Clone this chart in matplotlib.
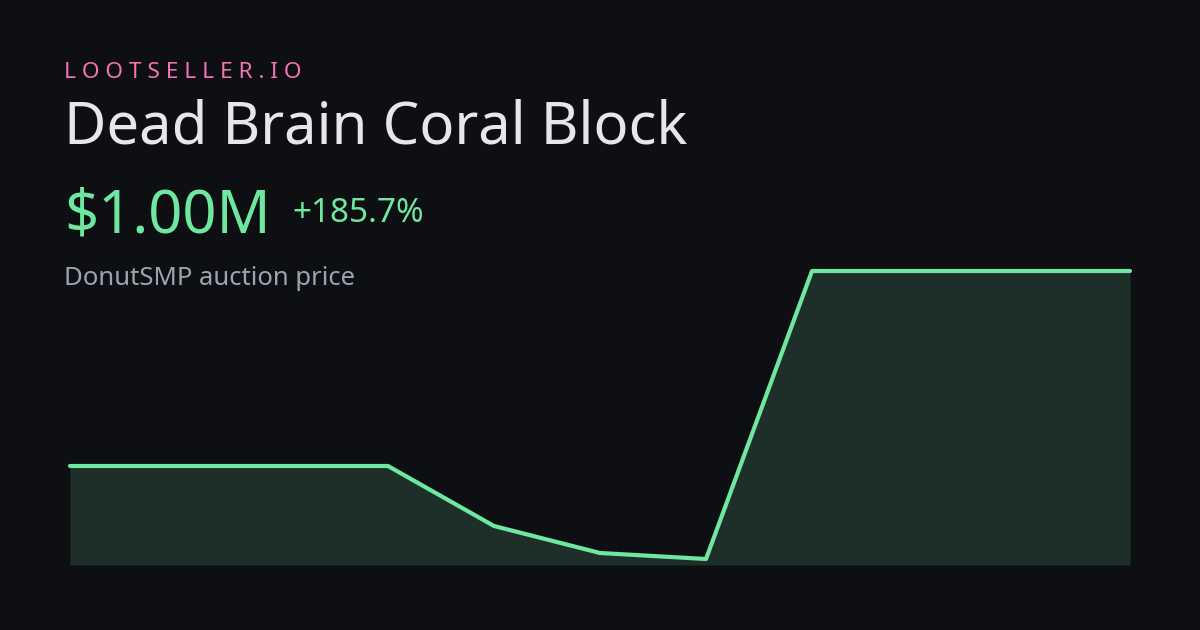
import matplotlib
matplotlib.use("Agg")
import matplotlib.pyplot as plt

values = [0.35, 0.35, 0.35, 0.35, 0.15, 0.06, 0.04, 1.00, 1.00, 1.00, 1.00]
brand = "LOOTSELLER.IO"
title = "Dead Brain Coral Block"
price = "$1.00M"
change = "+185.7%"
subtitle = "DonutSMP auction price"

W, H = 1200, 630
bg = "#0d0f12"
fig = plt.figure(figsize=(12, 6.3), dpi=100, facecolor=bg)
plt.rcParams['font.family'] = ['Noto Sans', 'DejaVu Sans']

def t(x, y, s, **kw):
    fig.text(x / W, 1 - y / H, s, va="baseline", ha="left", **kw)

t(64, 78, " ".join(brand), color="#f472b6", fontsize=16.3)
t(64, 143, title, color="#e5e7eb", fontsize=41.8)
t(64, 233, price, color="#6ee7a0", fontsize=43)
t(292, 222, change, color="#6ee7a0", fontsize=24)
t(64, 285, subtitle, color="#9ca3af", fontsize=18.5)

bottom = 0.02
ax = fig.add_axes([70 / W, 1 - 565 / H, 1060 / W, (565 - 271) / H])
ax.set_facecolor(bg)
xs = list(range(len(values)))
ax.fill_between(xs, values, bottom, color="#1e2f2a", lw=0)
ax.plot(xs, values, color="#6ee7a0", lw=3, solid_joinstyle="round", solid_capstyle="round", clip_on=False)
ax.set_xlim(0, len(values) - 1)
ax.set_ylim(bottom, 1.0)
ax.axis("off")
fig.savefig("out.png", facecolor=bg)
